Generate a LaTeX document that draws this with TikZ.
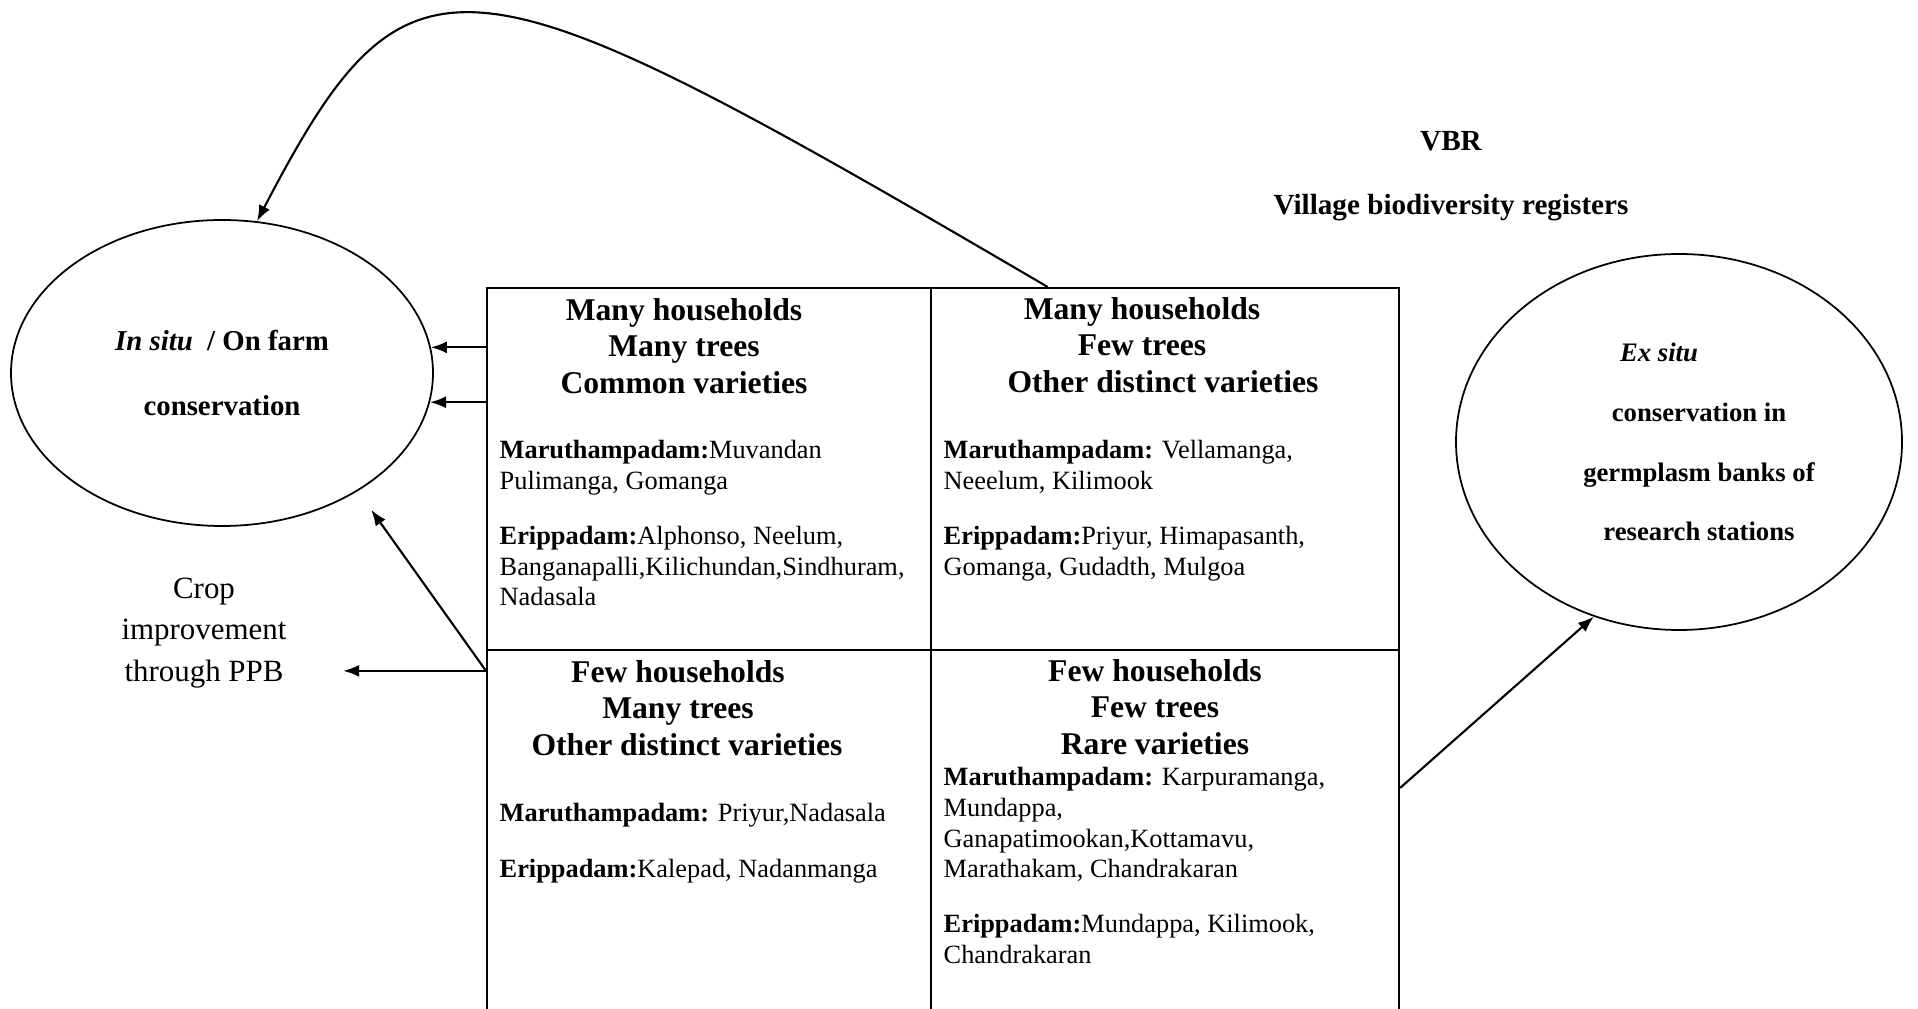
\documentclass[tikz,border=0pt]{standalone}
\usepackage{fontspec}
\setmainfont{Liberation Serif}
\usepackage{tikz}
\usetikzlibrary{arrows.meta,positioning,shapes.geometric,calc}

\begin{document}
\begin{tikzpicture}[x=1mm,y=1mm,
  cell/.style={draw,line width=0.6pt,inner sep=0pt,anchor=south west},
  oval/.style={draw,ellipse,line width=0.5pt,inner sep=0pt,align=center},
  head/.style={align=center,font=\fontsize{9}{10.3}\selectfont\bfseries},
  body/.style={align=left,anchor=north west,inner sep=0pt,font=\fontsize{7.5}{8.7}\selectfont},
  arr/.style={-{Latex[length=1.6mm,width=1.2mm]},line width=0.6pt}]
\useasboundingbox (0,0) rectangle (191.8,100.8);
% grid of the four groups
\node[cell,minimum width=44.4mm,minimum height=36.2mm] (mhmt) at (48.6,35.7){};
\node[cell,minimum width=46.8mm,minimum height=36.2mm] (mhft) at (93,35.7){};
\node[cell,minimum width=44.4mm,minimum height=36mm] (fhmt) at (48.6,-0.3){};
\node[cell,minimum width=46.8mm,minimum height=36mm] (fhft) at (93,-0.3){};
\node[head] (h1) at (68.4,66.2){Many households\\Many trees\\Common varieties};
\node[head] (h2) at (114.2,66.3){Many households\\Few trees\\\hspace*{4.2mm}Other distinct varieties};
\node[head] (h3) at (67.8,30.0){Few households\\Many trees\hspace*{3mm}\\\hspace*{1.8mm}Other distinct varieties};
\node[head] (h4) at (115.5,30.1){Few households\\Few trees\hspace*{2.4mm}\\Rare varieties};
\node[body] (b1) at (49.9,56.8){\textbf{Maruthampadam:}Muvandan\\Pulimanga, Gomanga\\[7pt]\textbf{Erippadam:}Alphonso, Neelum,\\Banganapalli,Kilichundan,Sindhuram,\\Nadasala};
\node[body] (b2) at (94.3,56.8){\textbf{Maruthampadam:} Vellamanga,\\Neeelum, Kilimook\\[7pt]\textbf{Erippadam:}Priyur, Himapasanth,\\Gomanga, Gudadth, Mulgoa};
\node[body] (b3) at (49.9,20.5){\textbf{Maruthampadam:} Priyur,Nadasala\\[7pt]\textbf{Erippadam:}Kalepad, Nadanmanga};
\node[body] (b4) at (94.3,24.1){\textbf{Maruthampadam:} Karpuramanga,\\Mundappa,\\Ganapatimookan,Kottamavu,\\Marathakam, Chandrakaran\\[7pt]\textbf{Erippadam:}Mundappa, Kilimook,\\Chandrakaran};
% the two kinds of conservation
\node[oval,minimum width=42.2mm,minimum height=30.6mm,font=\fontsize{8.2}{18.4}\selectfont\bfseries] (insitu) at (22.2,63.5){\textit{In situ}\ \ / On farm\\conservation};
\node[oval,minimum width=44.6mm,minimum height=37.6mm,font=\fontsize{7.6}{17}\selectfont\bfseries] (exsitu) at (167.9,56.6){\textit{Ex situ}\hspace*{4mm}\\\hspace*{4mm}conservation in\\\hspace*{4mm}germplasm banks of\\\hspace*{4mm}research stations};
\node[align=center,font=\fontsize{8.3}{18.1}\selectfont\bfseries] (vbr) at (145.1,83.2){VBR\\Village biodiversity registers};
\node[align=center,font=\fontsize{8.8}{11.8}\selectfont,inner xsep=5.6mm] (crop) at (20.4,37.5){Crop\\improvement\\through PPB};
% arrows
\coordinate (vbrout) at ($(mhft.north west)!0.25!(mhft.north east)$);
\draw[arr] (vbrout) .. controls (46,106.5) and (41,108) .. (insitu.77);
\draw[arr] (insitu.7 -| mhmt.west) -- (insitu.7);
\draw[arr] (insitu.-8 -| mhmt.west) -- (insitu.-8);
\coordinate (ppb) at ([yshift=-2.2mm]fhmt.north west);
\draw[arr,shorten >=2.3mm] (ppb) -- (insitu.-41);
\draw[arr] (ppb) -- (ppb -| crop.east);
\draw[arr] ([yshift=4.2mm]fhft.east) -- (exsitu.-116);
\end{tikzpicture}
\end{document}
